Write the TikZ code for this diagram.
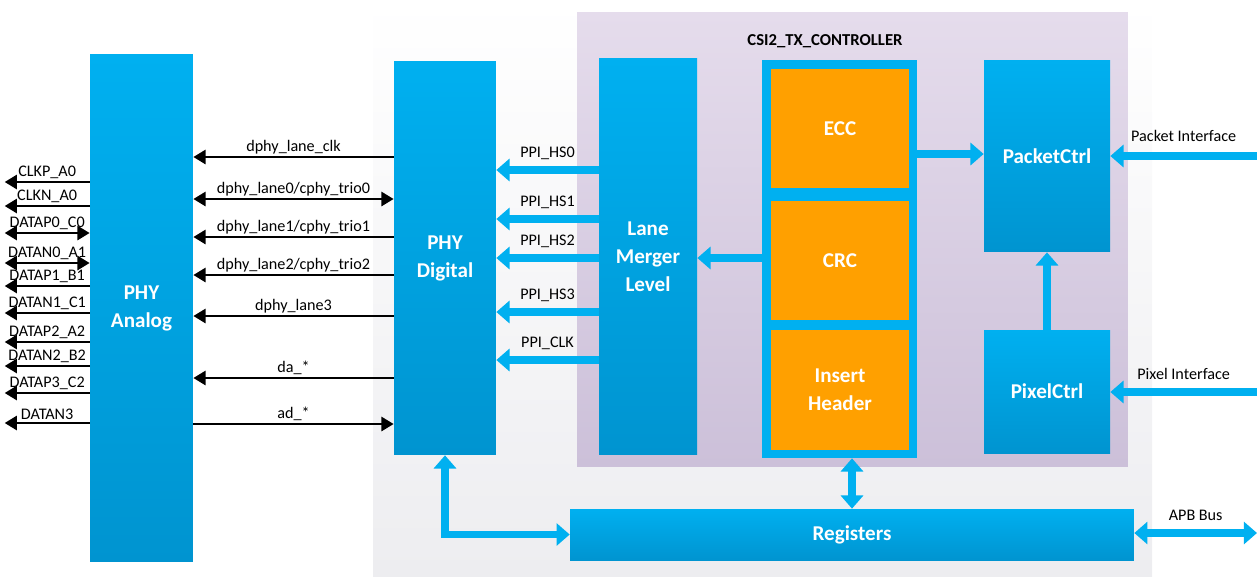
\documentclass[tikz,border=0pt]{standalone}
\usepackage{fontspec}
\setmainfont{Carlito}
\usepackage{tikz}
\usetikzlibrary{arrows.meta,positioning,calc}
\definecolor{ipblue}{RGB}{0,176,240}
\definecolor{ipbluedk}{RGB}{0,148,208}
\definecolor{iporange}{RGB}{255,160,0}
\definecolor{iplilac}{RGB}{229,220,236}
\definecolor{iplilacdk}{RGB}{204,192,217}
\definecolor{ipgray}{RGB}{237,237,240}
\tikzset{
  blk/.style={top color=ipblue,bottom color=ipbluedk,draw=none,text=white,align=center,
    inner sep=0pt,font=\fontsize{12}{16}\selectfont\bfseries},
  orng/.style={fill=iporange,text=white,align=center,inner sep=0pt,
    font=\fontsize{12}{16}\selectfont\bfseries},
  sig/.style={font=\fontsize{9.2}{11}\selectfont,text=black,inner sep=1pt},
  wire/.style={line width=1.6pt,-{Triangle[length=7pt,width=8pt]}},
  wire2/.style={line width=1.6pt,{Triangle[length=7pt,width=8pt]}-{Triangle[length=7pt,width=8pt]}},
  pipe/.style={ipblue,line width=4.5pt,-{Triangle[length=7.5pt,width=12.5pt]}},
  pipe2/.style={ipblue,line width=4.5pt,{Triangle[length=7.5pt,width=12.5pt]}-{Triangle[length=7.5pt,width=12.5pt]}}
}

\begin{document}
\begin{tikzpicture}[x=0.02cm,y=-0.02cm]
  \useasboundingbox (0,0) rectangle (1257,576);
  \fill[top color=white,bottom color=ipgray] (373,0) rectangle (1152,576);

  \node[top color=iplilac,bottom color=iplilacdk,minimum width=11.02cm,minimum height=9.10cm,
    inner sep=0pt] (csi) at (852.5,239.5) {};
  \node[font=\fontsize{9.5}{11}\selectfont\bfseries] (csilbl) at (825,41) {CSI2\_TX\_CONTROLLER};

  \node[blk,minimum width=2.06cm,minimum height=10.16cm] (phya) at (141.5,308) {PHY\\Analog};
  \node[blk,minimum width=2.04cm,minimum height=7.88cm] (phyd) at (445,258) {PHY\\Digital};
  \node[blk,minimum width=1.96cm,minimum height=7.94cm] (lml) at (648,256.5) {Lane\\Merger\\Level};
  \node[fill=ipblue,minimum width=3.10cm,minimum height=7.96cm,inner sep=0pt] (frame) at (839.5,259) {};
  \node[orng,minimum width=2.76cm,minimum height=2.38cm] (ecc) at (840,128.5) {ECC};
  \node[orng,minimum width=2.76cm,minimum height=2.38cm] (crc) at (840,260.5) {CRC};
  \node[orng,minimum width=2.76cm,minimum height=2.40cm] (hdr) at (840,390) {Insert\\Header};
  \node[blk,minimum width=2.52cm,minimum height=3.84cm] (pkt) at (1047,156) {PacketCtrl};
  \node[blk,minimum width=2.52cm,minimum height=2.46cm] (pix) at (1047,391.5) {PixelCtrl};
  \node[blk,minimum width=11.28cm,minimum height=1.02cm] (regs) at (852,534.5) {Registers};

  \foreach \y/\t/\k in {182/{CLKP\_A0}/wire, 206/{CLKN\_A0}/wire, 233/{DATAP0\_C0}/wire2,
      263/{DATAN0\_A1}/wire2, 286/{DATAP1\_B1}/wire, 313/{DATAN1\_C1}/wire, 342/{DATAP2\_A2}/wire,
      366/{DATAN2\_B2}/wire, 393/{DATAP3\_C2}/wire, 423/{DATAN3}/wire}
    \draw[\k] (phya.west |- 0,\y) -- ++(-85,0) node[sig,above,midway] {\t};

  \foreach \y/\t/\k in {157/{dphy\_lane\_clk}/wire, 199/{dphy\_lane0/cphy\_trio0}/wire2,
      237/{dphy\_lane1/cphy\_trio1}/wire, 275/{dphy\_lane2/cphy\_trio2}/wire,
      316/{dphy\_lane3}/wire, 378/{da\_*}/wire}
    \draw[\k] (phyd.west |- 0,\y) -- (phya.east |- 0,\y) node[sig,above,midway] {\t};
  \draw[wire] (phya.east |- 0,424) -- (phyd.west |- 0,424) node[sig,above,midway] {ad\_*};

  \foreach \y/\t in {170/PPI\_HS0, 219/PPI\_HS1, 258/PPI\_HS2, 312/PPI\_HS3, 360/PPI\_CLK}
    \draw[pipe] (lml.west |- 0,\y) -- (phyd.east |- 0,\y) node[sig,above=2.5pt,midway] {\t};

  \draw[pipe] (frame.west |- 0,258) -- (lml.east |- 0,258);
  \draw[pipe] (frame.east |- 0,154) -- (pkt.west |- 0,154);
  \draw[pipe] (pix.north) -- (pkt.south);

  \coordinate (pktin) at (1257,156);
  \coordinate (pixin) at (1257,392);
  \coordinate (apb) at (1257,533);
  \draw[pipe] (pktin) -- (pkt.east |- pktin) node[sig,above=5pt,midway] {Packet Interface};
  \draw[pipe] (pixin) -- (pix.east |- pixin) node[sig,above=4pt,midway] {Pixel Interface};
  \draw[pipe2] (regs.east |- apb) -- (apb) node[sig,above=4pt,midway] {APB Bus};
  \draw[pipe2] (regs.north) -- (regs.north |- frame.south);
  \draw[pipe2] (phyd.south) |- (regs.west);
\end{tikzpicture}
\end{document}
